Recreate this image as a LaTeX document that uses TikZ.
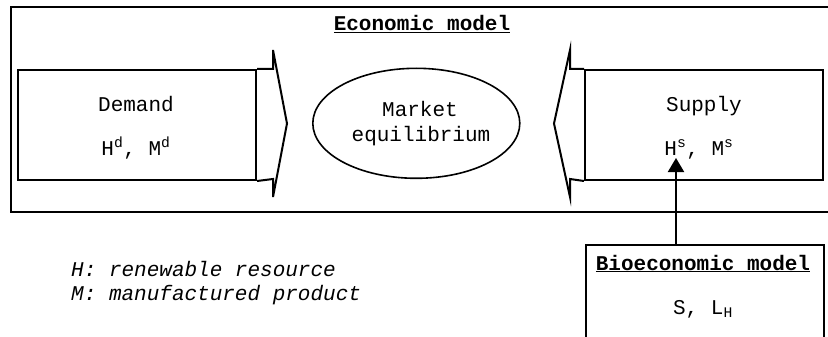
\documentclass[tikz,border=0pt]{standalone}
\usepackage{fontspec}
\setmainfont{Liberation Mono}
\usetikzlibrary{shapes.geometric,arrows.meta}
\begin{document}
\begin{tikzpicture}[x=1pt,y=-1pt,
  frame/.style={draw,line width=2.2pt,inner sep=0pt},
  box/.style={draw,line width=2pt,minimum width=238pt,minimum height=110pt,inner sep=0pt},
  blockarrow/.style={draw,line width=2pt,line join=miter},
  lbl/.style={font=\fontsize{21}{24}\selectfont,inner sep=0pt,anchor=base},
  conn/.style={draw,line width=2pt,-{Triangle[width=16pt,length=14pt]}}]
\useasboundingbox (0,0) rectangle (828,337);
\clip (0,0) rectangle (828,337);
% outer economic model frame
\node[frame,anchor=north west,minimum width=840pt,minimum height=205pt] (econ) at (10,6) {};
\node[lbl] (econtitle) at (422,31) {\underline{\textbf{Economic model}}};
% demand
\node[box] (demand) at (137,125) {};
\draw[blockarrow] (demand.north east) -- ++(16,0) -- ++(0,-19) -- ++(14,73.5) -- ++(-14,73.5) -- ++(0,-18) -- (demand.south east);
\node[lbl] (dlabel) at (136,111) {Demand};
\node[lbl] (dvars) at (136,155) {H\textsuperscript{d}, M\textsuperscript{d}};
% market equilibrium
\node[draw,ellipse,line width=1.6pt,minimum width=207pt,minimum height=110pt,inner sep=0pt] (market) at (416.3,123.3) {};
\node[lbl] (mk1) at (420,117) {Market};
\node[lbl] (mk2) at (421,141) {equilibrium};
% supply
\node[box] (supply) at (704,125) {};
\draw[blockarrow] (supply.north west) -- ++(-14,0) -- ++(0,-19) -- ++(-16,73.5) -- ++(16,73.5) -- ++(0,-18) -- (supply.south west);
\node[lbl] (slabel) at (704,111) {Supply};
\node[lbl] (hs) at (699,155) {H\textsuperscript{s}, M\textsuperscript{s}};
% bioeconomic model
\node[box,anchor=north west,minimum height=120pt] (bio) at (585,244) {};
\node[lbl] (biotitle) at (703,270) {\underline{\textbf{Bioeconomic model}}};
\node[lbl] (biovars) at (703,314) {S, L\textsubscript{H}};
\coordinate (hstip) at (676,158);
\draw[conn] (bio.north -| hstip) -- (hstip);
% legend
\node[lbl,anchor=base west] (leg1) at (71,276) {\textit{H: renewable resource}};
\node[lbl,anchor=base west] (leg2) at (71,300) {\textit{M: manufactured product}};
\end{tikzpicture}
\end{document}
